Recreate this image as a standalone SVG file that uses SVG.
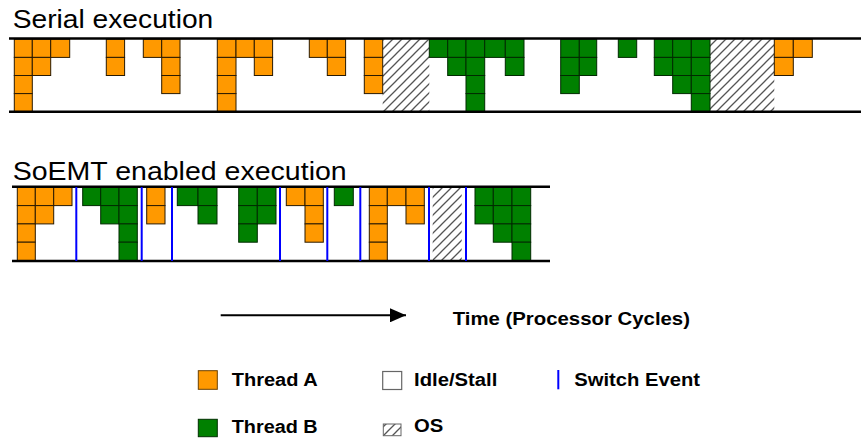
<svg xmlns="http://www.w3.org/2000/svg" width="861" height="438" viewBox="0 0 861 438">
<defs>
<pattern id="hatch" patternUnits="userSpaceOnUse" width="9" height="9">
<rect width="9" height="9" fill="#fff"/>
<path d="M-2,2 L2,-2 M0,9 L9,0 M7,11 L11,7" stroke="#555" stroke-width="1.3"/>
</pattern>
<marker id="arr" markerWidth="16" markerHeight="14" refX="16" refY="7" orient="auto" markerUnits="userSpaceOnUse">
<path d="M0,0 L16,7 L0,14 Z" fill="#000"/>
</marker>
</defs>
<style>
.a{fill:#FF9900;stroke:#2a1a00;stroke-width:1}
.b{fill:#008000;stroke:#002a00;stroke-width:1}
.h{fill:url(#hatch)}
.rail{stroke:#000;stroke-width:2.5}
.sw{stroke:#0000FF;stroke-width:2}
.title{font-family:"Liberation Sans",Arial,sans-serif;font-size:26px;fill:#000}
.lg{font-family:"Liberation Sans",Arial,sans-serif;font-size:17.5px;font-weight:bold;fill:#000}
</style>
<rect width="861" height="438" fill="#fff"/>

<g id="serial">
<text class="title" x="12.7" y="28.3" textLength="200.6" lengthAdjust="spacingAndGlyphs">Serial execution</text>
<rect class="h" x="382.7" y="39.3" width="46.6" height="72.4"/>
<rect class="h" x="710" y="39.3" width="64.3" height="72.4"/>
<rect class="a" x="14.3" y="39.3" width="18" height="18.1"/>
<rect class="a" x="14.3" y="57.4" width="18" height="18.1"/>
<rect class="a" x="14.3" y="75.5" width="18" height="18.1"/>
<rect class="a" x="14.3" y="93.6" width="18" height="18.1"/>
<rect class="a" x="32.3" y="39.3" width="18.4" height="18.1"/>
<rect class="a" x="32.3" y="57.4" width="18.4" height="18.1"/>
<rect class="a" x="50.7" y="39.3" width="19" height="18.1"/>
<rect class="a" x="106.3" y="39.3" width="18.3" height="18.1"/>
<rect class="a" x="106.3" y="57.4" width="18.3" height="18.1"/>
<rect class="a" x="143.3" y="39.3" width="18.4" height="18.1"/>
<rect class="a" x="161.7" y="39.3" width="18.3" height="18.1"/>
<rect class="a" x="161.7" y="57.4" width="18.3" height="18.1"/>
<rect class="a" x="161.7" y="75.5" width="18.3" height="18.1"/>
<rect class="a" x="217.3" y="39.3" width="18.7" height="18.1"/>
<rect class="a" x="217.3" y="57.4" width="18.7" height="18.1"/>
<rect class="a" x="217.3" y="75.5" width="18.7" height="18.1"/>
<rect class="a" x="217.3" y="93.6" width="18.7" height="18.1"/>
<rect class="a" x="236" y="39.3" width="18.3" height="18.1"/>
<rect class="a" x="254.3" y="39.3" width="18.3" height="18.1"/>
<rect class="a" x="254.3" y="57.4" width="18.3" height="18.1"/>
<rect class="a" x="309.3" y="39.3" width="18" height="18.1"/>
<rect class="a" x="327.3" y="39.3" width="18.3" height="18.1"/>
<rect class="a" x="327.3" y="57.4" width="18.3" height="18.1"/>
<rect class="a" x="364.3" y="39.3" width="18.4" height="18.1"/>
<rect class="a" x="364.3" y="57.4" width="18.4" height="18.1"/>
<rect class="a" x="364.3" y="75.5" width="18.4" height="18.1"/>
<rect class="b" x="429.3" y="39.3" width="18.4" height="18.1"/>
<rect class="b" x="447.7" y="39.3" width="18.3" height="18.1"/>
<rect class="b" x="447.7" y="57.4" width="18.3" height="18.1"/>
<rect class="b" x="466" y="39.3" width="18.7" height="18.1"/>
<rect class="b" x="466" y="57.4" width="18.7" height="18.1"/>
<rect class="b" x="466" y="75.5" width="18.7" height="18.1"/>
<rect class="b" x="466" y="93.6" width="18.7" height="18.1"/>
<rect class="b" x="484.7" y="39.3" width="20.6" height="18.1"/>
<rect class="b" x="505.3" y="39.3" width="18.7" height="18.1"/>
<rect class="b" x="505.3" y="57.4" width="18.7" height="18.1"/>
<rect class="b" x="560.7" y="39.3" width="18.6" height="18.1"/>
<rect class="b" x="560.7" y="57.4" width="18.6" height="18.1"/>
<rect class="b" x="560.7" y="75.5" width="18.6" height="18.1"/>
<rect class="b" x="579.3" y="39.3" width="17.4" height="18.1"/>
<rect class="b" x="579.3" y="57.4" width="17.4" height="18.1"/>
<rect class="b" x="618.3" y="39.3" width="18.4" height="18.1"/>
<rect class="b" x="654.3" y="39.3" width="18.4" height="18.1"/>
<rect class="b" x="654.3" y="57.4" width="18.4" height="18.1"/>
<rect class="b" x="672.7" y="39.3" width="18.6" height="18.1"/>
<rect class="b" x="672.7" y="57.4" width="18.6" height="18.1"/>
<rect class="b" x="672.7" y="75.5" width="18.6" height="18.1"/>
<rect class="b" x="691.3" y="39.3" width="18.7" height="18.1"/>
<rect class="b" x="691.3" y="57.4" width="18.7" height="18.1"/>
<rect class="b" x="691.3" y="75.5" width="18.7" height="18.1"/>
<rect class="b" x="691.3" y="93.6" width="18.7" height="18.1"/>
<rect class="a" x="774.3" y="39.3" width="19" height="18.1"/>
<rect class="a" x="774.3" y="57.4" width="19" height="18.1"/>
<rect class="a" x="793.3" y="39.3" width="19" height="18.1"/>
<line class="rail" x1="9" y1="38.5" x2="861" y2="38.5"/>
<line class="rail" x1="9" y1="111.7" x2="861" y2="111.7"/>
</g>

<g id="soemt">
<text class="title" x="12.7" y="180" textLength="334" lengthAdjust="spacingAndGlyphs">SoEMT enabled execution</text>
<rect class="h" x="432.7" y="187.3" width="29" height="73.2"/>
<rect class="a" x="17.3" y="187.3" width="18" height="18.3"/>
<rect class="a" x="17.3" y="205.6" width="18" height="18.3"/>
<rect class="a" x="17.3" y="223.9" width="18" height="18.3"/>
<rect class="a" x="17.3" y="242.2" width="18" height="18.3"/>
<rect class="a" x="35.3" y="187.3" width="18.4" height="18.3"/>
<rect class="a" x="35.3" y="205.6" width="18.4" height="18.3"/>
<rect class="a" x="53.7" y="187.3" width="18.3" height="18.3"/>
<rect class="b" x="82.7" y="187.3" width="18" height="18.3"/>
<rect class="b" x="100.7" y="187.3" width="18.3" height="18.3"/>
<rect class="b" x="100.7" y="205.6" width="18.3" height="18.3"/>
<rect class="b" x="119" y="187.3" width="18.3" height="18.3"/>
<rect class="b" x="119" y="205.6" width="18.3" height="18.3"/>
<rect class="b" x="119" y="223.9" width="18.3" height="18.3"/>
<rect class="b" x="119" y="242.2" width="18.3" height="18.3"/>
<rect class="a" x="146.7" y="187.3" width="18.3" height="18.3"/>
<rect class="a" x="146.7" y="205.6" width="18.3" height="18.3"/>
<rect class="b" x="177.3" y="187.3" width="20.7" height="18.3"/>
<rect class="b" x="198" y="187.3" width="19" height="18.3"/>
<rect class="b" x="198" y="205.6" width="19" height="18.3"/>
<rect class="b" x="238.7" y="187.3" width="18.6" height="18.3"/>
<rect class="b" x="238.7" y="205.6" width="18.6" height="18.3"/>
<rect class="b" x="238.7" y="223.9" width="18.6" height="18.3"/>
<rect class="b" x="257.3" y="187.3" width="18.7" height="18.3"/>
<rect class="b" x="257.3" y="205.6" width="18.7" height="18.3"/>
<rect class="a" x="286.3" y="187.3" width="18.7" height="18.3"/>
<rect class="a" x="305" y="187.3" width="18.3" height="18.3"/>
<rect class="a" x="305" y="205.6" width="18.3" height="18.3"/>
<rect class="a" x="305" y="223.9" width="18.3" height="18.3"/>
<rect class="b" x="334.3" y="187.3" width="19" height="18.3"/>
<rect class="a" x="369.3" y="187.3" width="18" height="18.3"/>
<rect class="a" x="369.3" y="205.6" width="18" height="18.3"/>
<rect class="a" x="369.3" y="223.9" width="18" height="18.3"/>
<rect class="a" x="369.3" y="242.2" width="18" height="18.3"/>
<rect class="a" x="387.3" y="187.3" width="18.7" height="18.3"/>
<rect class="a" x="406" y="187.3" width="18.3" height="18.3"/>
<rect class="a" x="406" y="205.6" width="18.3" height="18.3"/>
<rect class="b" x="475" y="187.3" width="18.3" height="18.3"/>
<rect class="b" x="475" y="205.6" width="18.3" height="18.3"/>
<rect class="b" x="493.3" y="187.3" width="18.7" height="18.3"/>
<rect class="b" x="493.3" y="205.6" width="18.7" height="18.3"/>
<rect class="b" x="493.3" y="223.9" width="18.7" height="18.3"/>
<rect class="b" x="512" y="187.3" width="18.7" height="18.3"/>
<rect class="b" x="512" y="205.6" width="18.7" height="18.3"/>
<rect class="b" x="512" y="223.9" width="18.7" height="18.3"/>
<rect class="b" x="512" y="242.2" width="18.7" height="18.3"/>
<line class="rail" x1="12" y1="186.7" x2="550" y2="186.7"/>
<line class="rail" x1="12" y1="261" x2="550" y2="261"/>
<line class="sw" x1="76.3" y1="187" x2="76.3" y2="261"/>
<line class="sw" x1="141.7" y1="187" x2="141.7" y2="261"/>
<line class="sw" x1="172" y1="187" x2="172" y2="261"/>
<line class="sw" x1="280" y1="187" x2="280" y2="261"/>
<line class="sw" x1="327.3" y1="187" x2="327.3" y2="261"/>
<line class="sw" x1="360.3" y1="187" x2="360.3" y2="261"/>
<line class="sw" x1="429" y1="187" x2="429" y2="261"/>
<line class="sw" x1="466" y1="187" x2="466" y2="261"/>
</g>

<g id="connectors">
<line x1="220.7" y1="315.3" x2="406" y2="315.3" stroke="#000" stroke-width="2" marker-end="url(#arr)"/>
</g>

<g id="time-label">
<text class="lg" x="452.7" y="325" font-size="18.5" style="font-size:18.5px" textLength="237.3" lengthAdjust="spacingAndGlyphs">Time (Processor Cycles)</text>
</g>

<g id="legend-thread-a">
<rect x="198.3" y="370.7" width="19" height="18.6" fill="#FF9900" stroke="#6b4000" stroke-width="1"/>
<text class="lg" x="231.7" y="386" textLength="86" lengthAdjust="spacingAndGlyphs">Thread A</text>
</g>
<g id="legend-idle">
<rect x="382.7" y="371.5" width="19" height="18" fill="#fff" stroke="#666" stroke-width="1.2"/>
<text class="lg" x="414" y="386" textLength="83.3" lengthAdjust="spacingAndGlyphs">Idle/Stall</text>
</g>
<g id="legend-switch">
<line x1="558.3" y1="370" x2="558.3" y2="389.3" stroke="#0000FF" stroke-width="2"/>
<text class="lg" x="574.3" y="386" textLength="125.7" lengthAdjust="spacingAndGlyphs">Switch Event</text>
</g>
<g id="legend-thread-b">
<rect x="198.3" y="419.3" width="19" height="17.4" fill="#008000" stroke="#003000" stroke-width="1"/>
<text class="lg" x="231.7" y="432.7" textLength="86" lengthAdjust="spacingAndGlyphs">Thread B</text>
</g>
<g id="legend-os">
<rect x="383.3" y="424" width="17.7" height="11.7" fill="url(#hatch)" stroke="#666" stroke-width="1"/>
<text class="lg" x="414" y="431.7" textLength="29.3" lengthAdjust="spacingAndGlyphs">OS</text>
</g>
</svg>
